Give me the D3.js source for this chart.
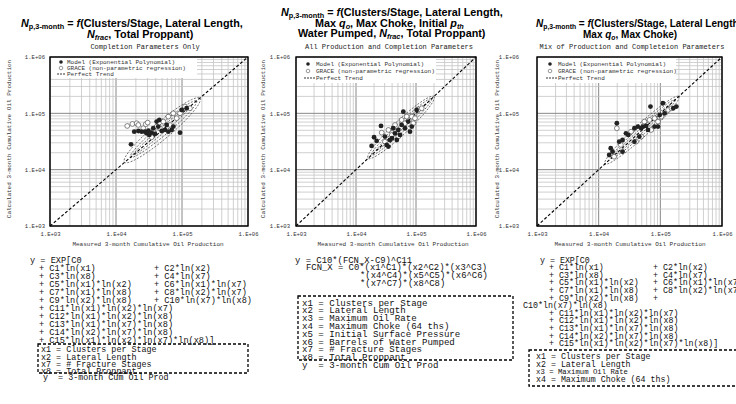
<!DOCTYPE html>
<html>
<head>
<meta charset="utf-8">
<script src="https://cdn.jsdelivr.net/npm/d3@7"></script>
<style>
  body { margin: 0; background: #fff; }
  svg { display: block; }
</style>
</head>
<body>
<div id="chart"></div>
<script>
// ---- data ----
var tickValues = [1e3, 1e4, 1e5, 1e6];
var tickLabels = ["1.E+03", "1.E+04", "1.E+05", "1.E+06"];

var legendLabels = ["Model (Exponential Polynomial)", "GRACE (non-parametric regression)", "Perfect Trend"];
var xTitle = "Measured 3-month Cumulative Oil Production";
var yTitle = "Calculated 3-month Cumulative Oil Production";
var subtitles = ["Completion Parameters Only", "All Production and Completion Parameters", "Mix of Production and Completeion Parameters"];

// [measured, calculated]
var p1Model = [[16900,28200],[18900,47300],[21800,48600],[27500,47300],[29200,44200],[32000,41300],[34700,45400],
  [38900,43100],[41300,71300],[45300,76400],[49200,48600],[55200,50700],[62100,47300],[69700,50700],[93300,45400],
  [98900,114800],[117500,123000],[43700,58100],[36700,54300],[31000,49300],[24500,47300],[58600,62200],[73800,58100]];
var p1Grace = [[14800,59700],[17700,64800],[20600,66700],[28200,64000],[30200,68400],[34700,37600],[41300,58100],
  [52100,71300],[62100,87500],[73800,100000],[83100,81800],[110900,131800],[131800,123000],[46400,54300],
  [25900,54300],[65800,62200],[93300,100000],[36700,47300],[21800,62200]];

var p2Model = [[18200,26400],[20000,37600],[22100,32400],[26100,59700],[30400,38600],[32400,27500],[34700,25700],
  [39800,36100],[44700,44200],[50700,50700],[57500,62200],[61500,107200],[74100,71300],[85100,58100],[102300,114800],
  [47900,33600],[65600,54300],[41700,54300],[79400,47300],[54100,41300],[36900,33600]];
var p2Grace = [[26800,45400],[34700,50700],[57500,76400],[70000,87500],[85100,87500],[109600,117500],[124500,123000],
  [90200,66700],[50700,38600],[30400,31400],[44700,62200],[65600,66700],[39400,41300],[96200,81800]];

var p3Model = [[14800,18200],[16800,20900],[15700,24000],[21500,31400],[24400,33600],[27700,44200],[30200,41300],
  [38000,54300],[43100,58100],[49000,54300],[52000,58100],[58900,59700],[63000,50700],[80700,58100],[91600,58100],
  [97700,93300],[117500,100000],[162000,123000],[182000,131800],[38000,31400],[45700,38600],[24400,20900],
  [19700,66700],[69200,131800],[110000,151000]];
var p3Grace = [[17800,17000],[19700,54300],[22900,27500],[33500,47300],[55000,71300],[66800,76400],[80700,81800],
  [103800,87500],[133700,114800],[151400,123000],[49000,38600],[40400,31400],[91600,71300],[71300,50700]];

// equation rows: [first column, second column]
var eq1Lines = [["y = EXP[C0"],
  ["+ C1*ln(x1)", "+ C2*ln(x2)"],
  ["+ C3*ln(x8)", "+ C4*ln(x7)"],
  ["+ C5*ln(x1)*ln(x2)", "+ C6*ln(x1)*ln(x7)"],
  ["+ C7*ln(x1)*ln(x8)", "+ C8*ln(x2)*ln(x7)"],
  ["+ C9*ln(x2)*ln(x8)", "+ C10*ln(x7)*ln(x8)"],
  ["+ C11*ln(x1)*ln(x2)*ln(x7)"],
  ["+ C12*ln(x1)*ln(x2)*ln(x8)"],
  ["+ C13*ln(x1)*ln(x7)*ln(x8)"],
  ["+ C14*ln(x2)*ln(x7)*ln(x8)"],
  ["+ C15*ln(x1)*ln(x2)*ln(x7)*ln(x8)]"]];
var var1Lines = ["x1 = Clusters per Stage", "x2 = Lateral Length", "x7 = # Fracture Stages", "x8 = Total Proppant"];

var eq2Lines = [["y = C10*(FCN_X-C9)^C11"],
  ["FCN_X = C0*(x1^C1)*(x2^C2)*(x3^C3)"],
  ["*(x4^C4)*(x5^C5)*(x6^C6)"],
  ["*(x7^C7)*(x8^C8)"]];
var var2Lines = ["x1 = Clusters per Stage", "x2 = Lateral Length", "x3 = Maximum Oil Rate", "x4 = Maximum Choke (64 ths)",
  "x5 = Initial Surface Pressure", "x6 = Barrels of Water Pumped", "x7 = # Fracture Stages", "x8 = Total Proppant"];

var eq3Lines = [["y = EXP[C0"],
  ["+ C1*ln(x1)", "+ C2*ln(x2)"],
  ["+ C3*ln(x8)", "+ C4*ln(x7)"],
  ["+ C5*ln(x1)*ln(x2)", "+ C6*ln(x1)*ln(x7"],
  ["+ C7*ln(x1)*ln(x8)", "+ C8*ln(x2)*ln(x7"],
  ["+ C9*ln(x2)*ln(x8)", "+"],
  ["C10*ln(x7)*ln(x8)"],
  ["+ C11*ln(x1)*ln(x2)*ln(x7)"],
  ["+ C12*ln(x1)*ln(x2)*ln(x8)"],
  ["+ C13*ln(x1)*ln(x7)*ln(x8)"],
  ["+ C14*ln(x2)*ln(x7)*ln(x8)"],
  ["+ C15*ln(x1)*ln(x2)*ln(x7)*ln(x8)]"]];
var var3Lines = ["x1 = Clusters per Stage", "x2 = Lateral Length", "x3 = Maximum Oil Rate", "x4 = Maximum Choke (64 ths)"];
var yDefLine = "y  = 3-month Cum Oil Prod";

// title pieces: [text, style]  i = italic, s = subscript
var title1 = [
  [["N","i"],["p,3-month","s"],[" = ",""],["f","i"],["(Clusters/Stage, Lateral Length,",""]],
  [["N","i"],["frac","si"],[", Total Proppant)",""]]];
var title2 = [
  [["N","i"],["p,3-month","s"],[" = ",""],["f","i"],["(Clusters/Stage, Lateral Length,",""]],
  [["Max ",""],["q","i"],["o","si"],[", Max Choke, Initial ",""],["p","i"],["th","si"]],
  [["Water Pumped, ",""],["N","i"],["frac","si"],[", Total Proppant)",""]]];
var title3 = [
  [["N","i"],["p,3-month","s"],[" = ",""],["f","i"],["(Clusters/Stage, Lateral Length,",""]],
  [["Max ",""],["q","i"],["o","si"],[", Max Choke)",""]]];

// ellipse annotations: [centre (log10), half length (log10), half width (log10)]
var ell1 = [[4.7, 0.57, 0.14], [4.72, 0.5, 0.09], [4.7, 0.44, 0.045]];
var ell2 = [[4.75, 0.55, 0.12], [4.76, 0.5, 0.075], [4.75, 0.42, 0.035]];
var ell3 = [[4.7, 0.6, 0.11], [4.72, 0.52, 0.07], [4.7, 0.45, 0.035]];

// ---- layout ----
var mono = "'Liberation Mono','Courier New',monospace";
var sans = "'Liberation Sans',Arial,sans-serif";
var yTop = 57, yBot = 226;

var panels = [
  { x0: 50, x1: 248, model: p1Model, grace: p1Grace, ell: ell1, sub: subtitles[0], subX: 145,
    yLabGap: 5, yTitleX: 9, xTitleX: 148,
    leg: { w: 146, h: 20, rows: [62, 68, 74], mx: 11, tx: 17 },
    title: title1, titleX: [21, 87], titleY: [27, 37.5], titleSize: 10.8,
    eq: eq1Lines, eqFont: 8.6, eqX: [30, 39, 39, 39, 39, 39, 39, 39, 39, 39, 39], col2X: 154, eqY: 262.5, eqDy: 8,
    box: { x: 38, y: 344, w: 210, h: 29 }, vars: var1Lines, varFont: 8.4, varX: 41, varY: 352.2, varDy: 7.4,
    yDef: [43, 380] },
  { x0: 296, x1: 476, model: p2Model, grace: p2Grace, ell: ell2, sub: subtitles[1], subX: 389,
    yLabGap: 6, yTitleX: 263, xTitleX: 393,
    leg: { w: 139, h: 25, rows: [64, 71, 78], mx: 12, tx: 20 },
    title: title2, titleX: [281, 315, 298], titleY: [16, 26.5, 37], titleSize: 10.8,
    eq: eq2Lines, eqFont: 8.9, eqX: [295, 306, 360, 360], col2X: 0, eqY: 262.5, eqDy: 7.7,
    box: { x: 298, y: 296, w: 215, h: 64 }, vars: var2Lines, varFont: 9.1, varX: 302, varY: 305.5, varDy: 7.8,
    yDef: [302, 368] },
  { x0: 537, x1: 722, model: p3Model, grace: p3Grace, ell: ell3, sub: subtitles[2], subX: 632,
    yLabGap: 18, yTitleX: 497, xTitleX: 630,
    leg: { w: 138, h: 25, rows: [64, 71, 78], mx: 13, tx: 21 },
    title: title3, titleX: [536, 583], titleY: [27, 37.5], titleSize: 10,
    eq: eq3Lines, eqFont: 8.3, eqX: [540, 549, 549, 549, 549, 549, 523, 549, 549, 549, 549, 549], col2X: 653,
    eqY: 262.5, eqDy: 7.6,
    box: { x: 529, y: 350, w: 215, h: 36 }, vars: var3Lines, varFont: 8.3, varSmall: 2, varX: 536, varY: 359, varDy: 7.6,
    yDef: null }
];

var svg = d3.select("#chart").append("svg")
  .attr("width", 736)
  .attr("height", 404);

function drawTitleLine(g, x, y, segs, size) {
  var t = g.append("text")
    .attr("x", x).attr("y", y)
    .attr("font-family", sans)
    .attr("font-weight", "bold")
    .attr("font-size", size + "px")
    .attr("fill", "#000");
  var shifted = false;
  segs.forEach(function (s) {
    var ts = t.append("tspan").text(s[0]);
    if (s[1].indexOf("i") >= 0) ts.attr("font-style", "italic");
    if (s[1].indexOf("s") >= 0) {
      ts.attr("font-size", (size * 0.68) + "px");
      if (!shifted) { ts.attr("dy", 2.3); shifted = true; }
    } else if (shifted) {
      ts.attr("dy", -2.3); shifted = false;
    }
  });
}

function ellipsePath(x, y, e) {
  // ellipse laid along the 1:1 line in log space
  var pts = d3.range(0, 361, 6).map(function (a) {
    var t = a * Math.PI / 180;
    var u = e[1] * Math.SQRT2 * Math.cos(t), v = e[2] * Math.sin(t);
    var lx = e[0] + (u + v) / Math.SQRT2, ly = e[0] + (u - v) / Math.SQRT2;
    return [x(Math.pow(10, lx)), y(Math.pow(10, ly))];
  });
  return d3.line()(pts);
}

panels.forEach(function (p) {
  var g = svg.append("g");
  var x = d3.scaleLog().domain([1e3, 1e6]).range([p.x0, p.x1]);
  var y = d3.scaleLog().domain([1e3, 1e6]).range([yBot, yTop]);
  var isMajor = function (d) { return Math.abs(Math.log10(d) - Math.round(Math.log10(d))) < 1e-9; };

  // titles
  p.title.forEach(function (segs, i) { drawTitleLine(g, p.titleX[i], p.titleY[i], segs, p.titleSize); });
  g.append("text")
    .attr("x", p.subX).attr("y", 49)
    .attr("text-anchor", "middle")
    .attr("font-family", mono).attr("font-size", "7px").attr("fill", "#222")
    .text(p.sub);

  // grid
  g.append("g").selectAll("line")
    .data(x.ticks()).enter().append("line")
    .attr("x1", d => x(d)).attr("x2", d => x(d))
    .attr("y1", yTop).attr("y2", yBot)
    .attr("stroke", d => isMajor(d) ? "#888" : "#c4c4c4")
    .attr("stroke-width", d => isMajor(d) ? 1 : 0.8);
  g.append("g").selectAll("line")
    .data(y.ticks()).enter().append("line")
    .attr("y1", d => y(d)).attr("y2", d => y(d))
    .attr("x1", p.x0).attr("x2", p.x1)
    .attr("stroke", d => isMajor(d) ? "#888" : "#c4c4c4")
    .attr("stroke-width", d => isMajor(d) ? 1 : 0.8);

  // tick labels
  var xAxis = g.append("g")
    .attr("transform", "translate(0," + (yBot + 3) + ")")
    .call(d3.axisBottom(x).tickValues(tickValues).tickSize(0).tickFormat((d, i) => tickLabels[i]));
  var yAxis = g.append("g")
    .attr("transform", "translate(" + (p.x0 - p.yLabGap) + ",0)")
    .call(d3.axisLeft(y).tickValues(tickValues).tickSize(0).tickFormat((d, i) => tickLabels[i]));
  [xAxis, yAxis].forEach(function (a) {
    a.select(".domain").remove();
    a.selectAll("text").attr("font-family", mono).attr("font-size", "5.6px").attr("fill", "#333");
  });
  yAxis.selectAll("text").attr("x", 0);

  g.append("text")
    .attr("x", p.xTitleX).attr("y", 246)
    .attr("text-anchor", "middle")
    .attr("font-family", mono).attr("font-size", "6px").attr("fill", "#333")
    .text(xTitle);
  g.append("text")
    .attr("transform", "translate(" + p.yTitleX + "," + 139 + ") rotate(-90)")
    .attr("text-anchor", "middle").attr("dy", "0.35em")
    .attr("font-family", mono).attr("font-size", "6px").attr("fill", "#333")
    .text(yTitle);

  // legend background
  var lg = g.append("g");
  lg.append("rect")
    .attr("x", p.x0 + 1).attr("y", yTop + 1)
    .attr("width", p.leg.w).attr("height", p.leg.h)
    .attr("fill", "#fff");

  // ellipses
  g.append("g").selectAll("path")
    .data(p.ell).enter().append("path")
    .attr("d", e => ellipsePath(x, y, e))
    .attr("fill", "none")
    .attr("stroke", "#333")
    .attr("stroke-width", 0.7)
    .attr("stroke-dasharray", "2,1.5");

  // perfect trend
  g.append("line")
    .attr("x1", x(1e3)).attr("y1", y(1e3))
    .attr("x2", x(1e6)).attr("y2", y(1e6))
    .attr("stroke", "#000").attr("stroke-width", 1.1)
    .attr("stroke-dasharray", "3,2");

  // points
  g.append("g").selectAll("circle")
    .data(p.grace).enter().append("circle")
    .attr("cx", d => x(d[0])).attr("cy", d => y(d[1]))
    .attr("r", 2.4)
    .attr("fill", "#fff").attr("stroke", "#555").attr("stroke-width", 0.7);
  g.append("g").selectAll("circle")
    .data(p.model).enter().append("circle")
    .attr("cx", d => x(d[0])).attr("cy", d => y(d[1]))
    .attr("r", 2.4)
    .attr("fill", "#222");

  // frame
  g.append("rect")
    .attr("x", p.x0).attr("y", yTop)
    .attr("width", p.x1 - p.x0).attr("height", yBot - yTop)
    .attr("fill", "none").attr("stroke", "#000").attr("stroke-width", 1.4);

  // legend entries
  var L = p.leg;
  lg.raise();
  lg.append("circle").attr("cx", p.x0 + L.mx).attr("cy", L.rows[0]).attr("r", 1.8).attr("fill", "#222");
  lg.append("circle").attr("cx", p.x0 + L.mx).attr("cy", L.rows[1]).attr("r", 1.8)
    .attr("fill", "#fff").attr("stroke", "#555").attr("stroke-width", 0.6);
  lg.append("line")
    .attr("x1", p.x0 + L.mx - 4).attr("x2", p.x0 + L.tx - 1)
    .attr("y1", L.rows[2]).attr("y2", L.rows[2])
    .attr("stroke", "#000").attr("stroke-width", 0.8).attr("stroke-dasharray", "2,1");
  lg.selectAll("text")
    .data(legendLabels).enter().append("text")
    .attr("x", p.x0 + L.tx).attr("y", (d, i) => L.rows[i] + 2)
    .attr("font-family", mono).attr("font-size", "6px").attr("fill", "#333")
    .text(d => d);

  // equation block
  var eq = g.append("g")
    .attr("font-family", mono).attr("fill", "#111");
  var rows = eq.selectAll("g.row")
    .data(p.eq).enter().append("g").attr("class", "row")
    .attr("font-size", p.eqFont + "px");
  rows.append("text")
    .attr("x", (d, i) => p.eqX[i])
    .attr("y", (d, i) => p.eqY + i * p.eqDy)
    .text(d => d[0]);
  rows.filter(d => d.length > 1).append("text")
    .attr("x", p.col2X)
    .attr("y", function () { return p.eqY + p.eq.indexOf(d3.select(this.parentNode).datum()) * p.eqDy; })
    .text(d => d[1]);

  // variable box
  g.append("rect")
    .attr("x", p.box.x).attr("y", p.box.y)
    .attr("width", p.box.w).attr("height", p.box.h)
    .attr("fill", "none").attr("stroke", "#000").attr("stroke-width", 1.3)
    .attr("stroke-dasharray", "3,2");
  eq.append("g").selectAll("text")
    .data(p.vars).enter().append("text")
    .attr("x", p.varX)
    .attr("y", (d, i) => p.varY + i * p.varDy)
    .attr("font-size", (d, i) => (i === p.varSmall ? p.varFont * 0.88 : p.varFont) + "px")
    .text(d => d);
  if (p.yDef) {
    eq.append("text").attr("x", p.yDef[0]).attr("y", p.yDef[1])
      .attr("font-size", p.varFont + "px")
      .attr("xml:space", "preserve")
      .text(yDefLine);
  }
});
</script>
</body>
</html>
